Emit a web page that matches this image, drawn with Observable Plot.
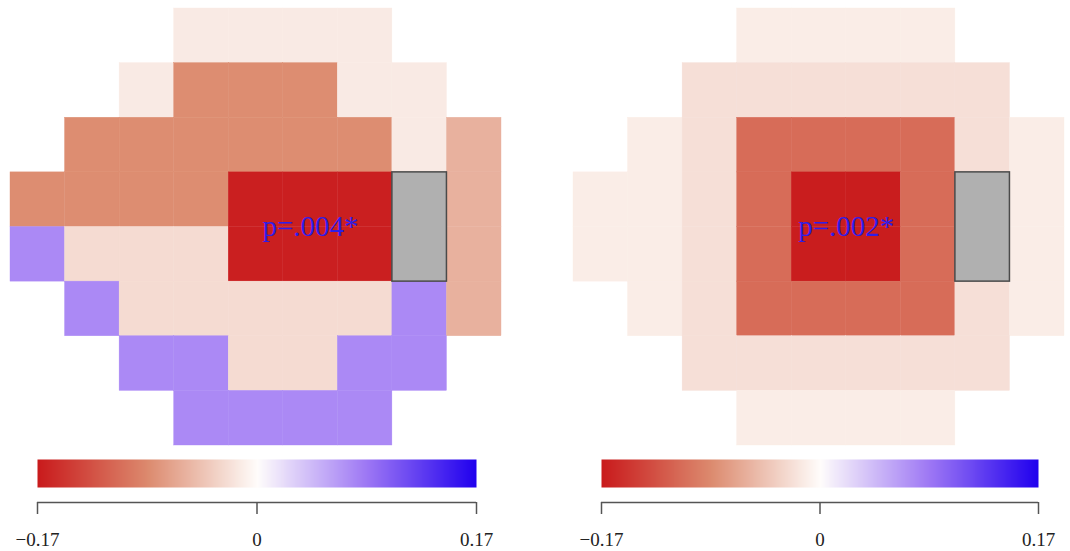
<!DOCTYPE html>
<html>
<head>
<meta charset="utf-8">
<script src="https://cdn.jsdelivr.net/npm/d3@7"></script>
<script src="https://cdn.jsdelivr.net/npm/@observablehq/plot@0.6"></script>
<style>
  body { margin: 0; background: #fff; }
  #chart { width: 1070px; height: 551px; overflow: hidden; }
  #bars { display: flex; }
</style>
</head>
<body>
<div id="chart"></div>
<script>
// ---- data (null = no test location) ----
const panels = ["left", "right"];

const leftGrid = [
  [null,  null,  null,  -0.014,-0.014,-0.014,-0.014, null,  null ],
  [null,  null,  -0.014,-0.083,-0.083,-0.083,-0.014,-0.014, null ],
  [null,  -0.083,-0.083,-0.083,-0.083,-0.083,-0.083,-0.014,-0.056],
  [-0.083,-0.083,-0.083,-0.083,-0.166,-0.166,-0.166, null,  -0.056],
  [0.074, -0.025,-0.025,-0.025,-0.166,-0.166,-0.166, null,  -0.056],
  [null,  0.074, -0.025,-0.025,-0.025,-0.025,-0.025, 0.074, -0.056],
  [null,  null,  0.074, 0.074, -0.025,-0.025, 0.074, 0.074, null ],
  [null,  null,  null,  0.074, 0.074, 0.074, 0.074, null,  null ]
];

const rightGrid = [
  [null,  null,  null,  -0.012,-0.012,-0.012,-0.012, null,  null ],
  [null,  null,  -0.022,-0.022,-0.022,-0.022,-0.022,-0.022, null ],
  [null,  -0.012,-0.022,-0.108,-0.108,-0.108,-0.108,-0.022,-0.012],
  [-0.012,-0.012,-0.022,-0.108,-0.168,-0.168,-0.108, null,  -0.012],
  [-0.012,-0.012,-0.022,-0.108,-0.168,-0.168,-0.108, null,  -0.012],
  [null,  -0.012,-0.022,-0.108,-0.108,-0.108,-0.108,-0.022,-0.012],
  [null,  null,  -0.022,-0.022,-0.022,-0.022,-0.022,-0.022, null ],
  [null,  null,  null,  -0.012,-0.012,-0.012,-0.012, null,  null ]
];

// blind spot location (column, first row, row count)
const blindCol = 7;
const blindRow = 3;
const blindRows = 2;

// p-value labels and the cluster centres they sit on
const pLabels = ["p=.004*", "p=.002*"];
const pLabelCol = [5.5, 5.0];
const pLabelRow = [4, 4];

// colour bar
const scaleDomain = [-0.17, -0.085, 0, 0.085, 0.17];
const scaleRange = ["#c91a1c", "#dc8a6e", "#fffdfb", "#9e78f4", "#2000ee"];
const barTicks = [-0.17, 0, 0.17];

// ---- build tables ----
const cells = [];
[leftGrid, rightGrid].forEach((grid, p) => {
  grid.forEach((row, r) => row.forEach((v, c) => {
    if (v !== null) cells.push({panel: panels[p], row: r, col: c, value: v});
  }));
});
const blind = panels.map(panel => ({panel, col: blindCol, row: blindRow, rows: blindRows}));
const labels = panels.map((panel, i) => ({panel, x: pLabelCol[i], y: pLabelRow[i], text: pLabels[i]}));

const colorOpts = {type: "linear", domain: scaleDomain, range: scaleRange, interpolate: "rgb"};
const serif = "Liberation Serif, Times New Roman, serif";

const grids = Plot.plot({
  width: 1070, height: 451,
  marginTop: 8, marginBottom: 6, marginLeft: 10, marginRight: 6,
  fx: {domain: panels, paddingInner: 0.1279, paddingOuter: 0, axis: null, label: null},
  x: {domain: [0, 9], axis: null},
  y: {domain: [0, 8], reverse: true, axis: null},
  color: colorOpts,
  marks: [
    Plot.rect(cells, {fx: "panel", x1: "col", x2: d => d.col + 1, y1: "row", y2: d => d.row + 1,
      fill: "value", stroke: "value", strokeWidth: 0.4}),
    Plot.rect(blind, {fx: "panel", x1: "col", x2: d => d.col + 1, y1: "row", y2: d => d.row + d.rows,
      fill: "#b0b0b0", stroke: "#4a4a4a", strokeWidth: 1.5}),
    Plot.text(labels, {fx: "panel", x: "x", y: "y", text: "text", fontSize: 29,
      fontFamily: serif, fill: "#2f1ee8"})
  ]
});

const fmt = d => (d < 0 ? "\u2212" : "") + String(Math.abs(d));

function colorbar(ml, mr) {
  const ramp = typeof Plot.raster === "function"
    ? Plot.raster({fill: (x, y) => x, x1: scaleDomain[0], x2: scaleDomain[scaleDomain.length - 1], y1: 0, y2: 1, width: 440, height: 1})
    : Plot.rect(d3.range(0, 220).map(i => scaleDomain[0] + (i + 0.5) * 0.34 / 220),
        {x1: d => d - 0.34 / 440, x2: d => d + 0.34 / 440, y1: 0, y2: 1, fill: d => d});
  return Plot.plot({
    width: 535, height: 100,
    marginTop: 8, marginBottom: 64, marginLeft: ml, marginRight: mr,
    style: {fontFamily: serif, fontSize: "19px", color: "#222"},
    x: {domain: [scaleDomain[0], scaleDomain[scaleDomain.length - 1]]},
    y: {domain: [0, 1], axis: null},
    color: colorOpts,
    marks: [
      ramp,
      Plot.ruleY([0], {dy: 15, stroke: "#555", strokeWidth: 1.5}),
      Plot.axisX({ticks: barTicks, tickFormat: fmt, tickSize: 12, tickPadding: 18, dy: 15,
        stroke: "#555", strokeWidth: 1.5, fill: "#222", fontSize: 19,
        fontFamily: serif, label: null})
    ]
  });
}

const chart = document.getElementById("chart");
chart.appendChild(grids);
const bars = document.createElement("div");
bars.id = "bars";
bars.appendChild(colorbar(37, 59));
bars.appendChild(colorbar(66, 32));
chart.appendChild(bars);
</script>
</body>
</html>
